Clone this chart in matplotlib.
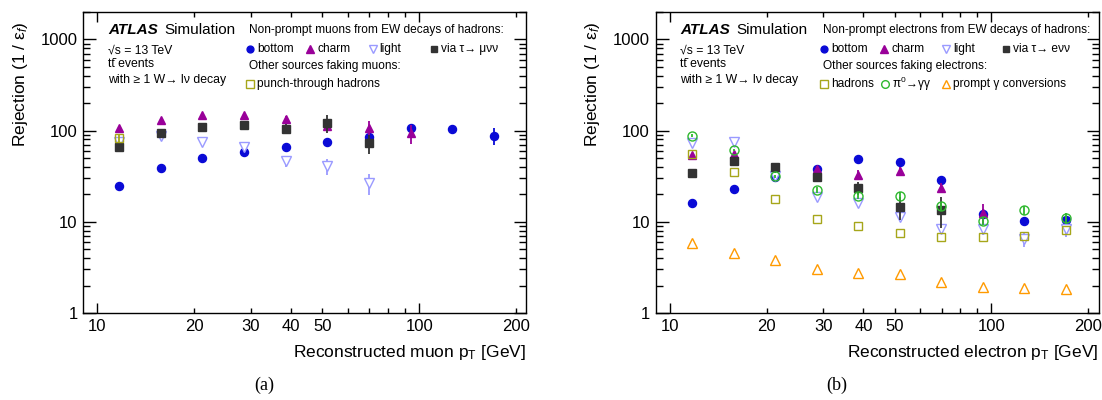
import numpy as np
import matplotlib
matplotlib.use('Agg')
import matplotlib.pyplot as plt
from matplotlib.ticker import FixedLocator, FuncFormatter, LogLocator, NullFormatter

plt.rcParams['font.family'] = ['Liberation Sans', 'DejaVu Sans']
plt.rcParams['mathtext.fontset'] = 'custom'
plt.rcParams['mathtext.rm'] = 'Liberation Sans'
plt.rcParams['mathtext.it'] = 'Liberation Sans:italic'
plt.rcParams['mathtext.bf'] = 'Liberation Sans:bold'

# bin centres in pT [GeV], same for both panels
pt = [11.7, 15.8, 21.2, 28.6, 38.5, 51.8, 69.8, 94.0, 126.6, 170.5]

# (a) muons
mu_bottom = [24.9, 38.8, 49.9, 59.0, 65.8, 75.9, 86.0, 106.0, 103.0, 88.0]
mu_bottom_err = [0.8, 1.2, 1.5, 2, 3, 4, 7, 12, 10, 18]
mu_charm = [106, 131, 147, 148, 134, 112, 108, 93.5]
mu_charm_err = [4, 5, 6, 7, 9, 12, 18, 23]
mu_light = [76, 88, 74.6, 66.9, 45.9, 40.5, 26.6]
mu_light_err = [5, 6, 5, 5, 6, 8, 7]
mu_tau = [65.8, 95, 110.5, 114, 105, 122, 72.8]
mu_tau_err = [3, 6, 7, 10, 12, 28, 17]
mu_punch = [84]
mu_punch_err = [8]

# (b) electrons
el_bottom = [16.0, 22.7, 30.7, 37.5, 48.7, 45.2, 28.4, 12.3, 10.2, 10.6]
el_bottom_err = [0.4, 0.6, 0.8, 1, 1.5, 2, 2, 1.5, 0.8, 1]
el_charm = [54.3, 55.2, 37.0, 38.2, 32.8, 36.3, 23.5, 12.5]
el_charm_err = [2, 3, 2, 3, 4, 4, 3, 3]
el_light = [74, 75.3, 32, 18.7, 16.1, 11.3, 8.24, 8.24, 6.52, 8.24]
el_light_err = [4, 8, 2, 1.5, 1.5, 1, 0.8, 1, 1.2, 1.5]
el_tau = [34.5, 46.3, 39.5, 31.0, 23.5, 14.6, 13.5]
el_tau_err = [1.5, 3, 5, 3, 4, 4, 5]
el_hadrons = [55.2, 35.2, 17.9, 10.8, 9.04, 7.45, 6.86, 6.86, 6.97, 8.04]
el_pi0 = [88.2, 61.6, 31.5, 22.4, 19.4, 19.4, 14.8, 10.3, 13.4, 10.9]
el_pi0_err = [3, 2, 1.5, 1.5, 1.5, 2, 1.5, 1, 1.5, 1.5]
el_conv = [5.9, 4.51, 3.78, 3.02, 2.77, 2.66, 2.21, 1.95, 1.90, 1.84]

c_bottom = '#0a0ad6'
c_charm = '#990099'
c_light = '#9a9aff'
c_tau = '#333333'
c_had = '#a6a61a'
c_pi0 = '#2eb82e'
c_conv = '#ff9a00'

sty = {
    'bottom': dict(marker='o', color=c_bottom, mfc=c_bottom, ms=5.8),
    'charm': dict(marker='^', color=c_charm, mfc=c_charm, ms=6),
    'light': dict(marker='v', color=c_light, mfc='white', ms=6.5),
    'tau': dict(marker='s', color=c_tau, mfc=c_tau, ms=5.6),
    'had': dict(marker='s', color=c_had, mfc='none', ms=6),
    'pi0': dict(marker='o', color=c_pi0, mfc='none', ms=6.5),
    'conv': dict(marker='^', color=c_conv, mfc='none', ms=6.5),
}

LEG_FS = 8.6


def draw(ax, vals, err, key):
    s = sty[key]
    x = pt[:len(vals)]
    ax.errorbar(x, vals, yerr=err, fmt='none', ecolor=s['color'], elinewidth=1.3, capsize=0)
    ax.plot(x, vals, ls='none', marker=s['marker'], color=s['color'],
            mfc=s['mfc'], mec=s['color'], ms=s['ms'], mew=1.0)


def legend_item(ax, x, y, key, text):
    s = sty[key]
    ax.plot([x], [y], transform=ax.transAxes, ls='none', marker=s['marker'],
            color=s['color'], mfc=s['mfc'], mec=s['color'], ms=s['ms'] * 0.85,
            mew=1.0, clip_on=False)
    ax.text(x + 0.016, y, text, transform=ax.transAxes, fontsize=LEG_FS, va='center', ha='left')


def style_axes(ax, xlabel):
    ax.set_xscale('log')
    ax.set_yscale('log')
    ax.set_xlim(9.04, 215)
    ax.set_ylim(1, 2000)
    ax.xaxis.set_major_locator(FixedLocator([10, 100]))
    ax.xaxis.set_minor_locator(FixedLocator([20, 30, 40, 50, 60, 70, 80, 90, 200]))
    ax.xaxis.set_major_formatter(FuncFormatter(lambda v, p: '%g' % v))
    ax.xaxis.set_minor_formatter(FuncFormatter(
        lambda v, p: '%g' % v if round(v) in (20, 30, 40, 50, 200) else ''))
    ax.yaxis.set_major_locator(LogLocator(base=10))
    ax.yaxis.set_major_formatter(FuncFormatter(lambda v, p: '%g' % v))
    ax.yaxis.set_minor_locator(LogLocator(base=10, subs=np.arange(2, 10)))
    ax.yaxis.set_minor_formatter(NullFormatter())
    ax.tick_params(which='both', direction='in', top=True, right=True,
                   labelsize=12, width=1.0)
    ax.tick_params(axis='x', which='major', length=7, pad=4)
    ax.tick_params(axis='x', which='minor', length=3.8, pad=4)
    ax.tick_params(axis='y', which='major', length=9, pad=4)
    ax.tick_params(axis='y', which='minor', length=4.8)
    for sp in ax.spines.values():
        sp.set_linewidth(1.0)
    ax.set_ylabel(r'Rejection (1 / ε$_{f}$)', fontsize=12.5, loc='top')
    ax.yaxis.set_label_coords(-0.12, 0.97)
    ax.set_xlabel(r'%s p$_{\mathrm{T}}$ [GeV]' % xlabel, fontsize=12.5, loc='right')
    ax.xaxis.set_label_coords(1.0, -0.10)
    # ATLAS label block
    ax.text(0.056, 0.939, 'ATLAS', transform=ax.transAxes, fontsize=11,
            fontweight='bold', fontstyle='italic', va='center')
    ax.text(0.182, 0.939, 'Simulation', transform=ax.transAxes, fontsize=11, va='center')
    ax.text(0.056, 0.872, '√s = 13 TeV', transform=ax.transAxes, fontsize=8.8, va='center')
    ax.text(0.056, 0.826, 'tt̄ events', transform=ax.transAxes, fontsize=8.8, va='center')
    ax.text(0.056, 0.775, 'with ≥ 1 W→ lν decay', transform=ax.transAxes, fontsize=8.8, va='center')


fig = plt.figure(figsize=(11.02, 4.0), dpi=100)
ax1 = fig.add_axes([83.3 / 1102, (400 - 313) / 400, 443 / 1102, 301 / 400])
ax2 = fig.add_axes([655.5 / 1102, (400 - 313) / 400, 443 / 1102, 301 / 400])

# panel (a)
draw(ax1, mu_bottom, mu_bottom_err, 'bottom')
draw(ax1, mu_charm, mu_charm_err, 'charm')
draw(ax1, mu_light, mu_light_err, 'light')
draw(ax1, mu_tau, mu_tau_err, 'tau')
draw(ax1, mu_punch, mu_punch_err, 'had')
style_axes(ax1, 'Reconstructed muon')
ax1.text(0.375, 0.939, 'Non-prompt muons from EW decays of hadrons:', transform=ax1.transAxes,
         fontsize=LEG_FS, va='center')
legend_item(ax1, 0.377, 0.878, 'bottom', 'bottom')
legend_item(ax1, 0.512, 0.878, 'charm', 'charm')
legend_item(ax1, 0.653, 0.878, 'light', 'light')
legend_item(ax1, 0.792, 0.878, 'tau', 'via τ→ μνν')
ax1.text(0.375, 0.820, 'Other sources faking muons:', transform=ax1.transAxes,
         fontsize=LEG_FS, va='center')
legend_item(ax1, 0.377, 0.762, 'had', 'punch-through hadrons')

# panel (b)
draw(ax2, el_bottom, el_bottom_err, 'bottom')
draw(ax2, el_charm, el_charm_err, 'charm')
draw(ax2, el_light, el_light_err, 'light')
draw(ax2, el_tau, el_tau_err, 'tau')
draw(ax2, el_hadrons, None, 'had')
draw(ax2, el_pi0, el_pi0_err, 'pi0')
draw(ax2, el_conv, None, 'conv')
style_axes(ax2, 'Reconstructed electron')
ax2.text(0.378, 0.939, 'Non-prompt electrons from EW decays of hadrons:', transform=ax2.transAxes,
         fontsize=LEG_FS, va='center')
legend_item(ax2, 0.381, 0.878, 'bottom', 'bottom')
legend_item(ax2, 0.516, 0.878, 'charm', 'charm')
legend_item(ax2, 0.656, 0.878, 'light', 'light')
legend_item(ax2, 0.792, 0.878, 'tau', 'via τ→ eνν')
ax2.text(0.378, 0.820, 'Other sources faking electrons:', transform=ax2.transAxes,
         fontsize=LEG_FS, va='center')
legend_item(ax2, 0.381, 0.762, 'had', 'hadrons')
legend_item(ax2, 0.517, 0.762, 'pi0', r'π$^{0}$→γγ')
legend_item(ax2, 0.656, 0.762, 'conv', 'prompt γ conversions')

fig.text(264 / 1102, 1 - 385 / 400, '(a)', family='Liberation Serif', fontsize=13,
         ha='center', va='center')
fig.text(837 / 1102, 1 - 385 / 400, '(b)', family='Liberation Serif', fontsize=13,
         ha='center', va='center')

fig.savefig('out.png', dpi=100)
